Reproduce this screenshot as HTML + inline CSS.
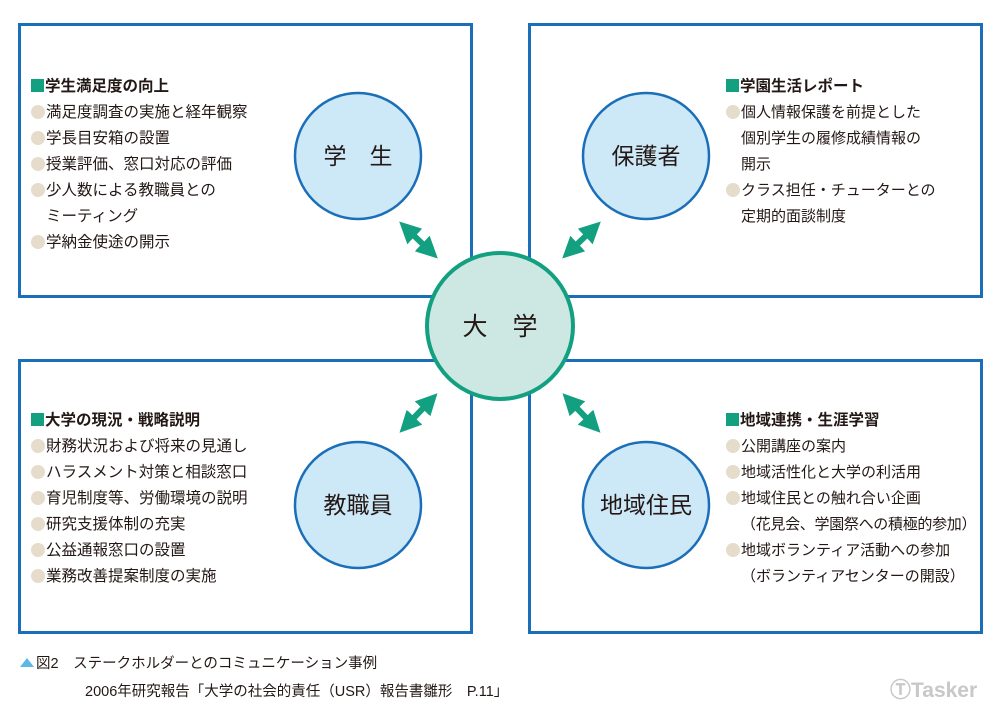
<!DOCTYPE html>
<html><head><meta charset="utf-8"><style>
html,body{margin:0;padding:0;background:#fff;}
body{width:1000px;height:711px;position:relative;overflow:hidden;font-family:"Liberation Sans","Noto Sans CJK JP",sans-serif;color:#231815;}
.t{position:absolute;font-size:15.5px;line-height:26px;white-space:nowrap;}
.h{font-weight:bold;font-size:15.5px;}
.b{display:inline-block;width:14px;height:14px;border-radius:50%;background:#e6dccb;vertical-align:-2px;margin-right:1px;}
.s{display:inline-block;width:13px;height:13px;background:#12a081;vertical-align:-1px;margin-right:1px;}
.ind{padding-left:15px;}
.cap{position:absolute;font-size:14.5px;white-space:nowrap;}
</style></head><body>
<svg width="1000" height="711" style="position:absolute;left:0;top:0">
<defs><marker id="a" viewBox="0 0 10 10" refX="5" refY="5" markerWidth="3.6" markerHeight="3.6" orient="auto-start-reverse"><path d="M0,0 L10,5 L0,10 z" fill="#12a081"/></marker></defs>
<g fill="none" stroke="#1a6fb8" stroke-width="3">
<rect x="19.5" y="24.5" width="452" height="272"/>
<rect x="529.5" y="24.5" width="452" height="272"/>
<rect x="19.5" y="360.5" width="452" height="272"/>
<rect x="529.5" y="360.5" width="452" height="272"/>
</g>
<g fill="#cde9f8" stroke="#1a6fb8" stroke-width="2.5">
<circle cx="358" cy="156" r="63"/><circle cx="646" cy="156" r="63"/>
<circle cx="358" cy="505" r="63"/><circle cx="646" cy="505" r="63"/>
</g>
<circle cx="500" cy="326" r="73" fill="#cde8e3" stroke="#12a081" stroke-width="4"/>
<g stroke="#12a081" stroke-width="6" marker-start="url(#a)" marker-end="url(#a)">
<line x1="407" y1="229" x2="430" y2="251"/>
<line x1="593" y1="229" x2="570" y2="251"/>
<line x1="430" y1="401" x2="407" y2="425"/>
<line x1="570" y1="401" x2="593" y2="425"/>
</g>
<path d="M20,667 L27,658 L34,667 z" fill="#5bb8e6"/>
<g font-family="Liberation Sans,Noto Sans CJK JP,sans-serif" fill="#231815" text-anchor="middle">
<text x="358" y="164" font-size="23">学　生</text>
<text x="646" y="164" font-size="23">保護者</text>
<text x="358" y="513" font-size="23">教職員</text>
<text x="646" y="513" font-size="23">地域住民</text>
<text x="500" y="335" font-size="25">大　学</text>
</g>
<text x="890" y="697" font-family="Liberation Sans,sans-serif" font-weight="bold" font-size="21" fill="#c8c8c8">ⓉTasker</text>
</svg>
<div class="t" style="left:31px;top:74px"><div class="h"><span class="s"></span>学生満足度の向上</div><div><span class="b"></span>満足度調査の実施と経年観察</div><div><span class="b"></span>学長目安箱の設置</div><div><span class="b"></span>授業評価、窓口対応の評価</div><div><span class="b"></span>少人数による教職員との</div><div class="ind">ミーティング</div><div><span class="b"></span>学納金使途の開示</div></div>
<div class="t" style="left:726px;top:74px;font-size:15px"><div class="h"><span class="s"></span>学園生活レポート</div><div><span class="b"></span>個人情報保護を前提とした</div><div class="ind">個別学生の履修成績情報の</div><div class="ind">開示</div><div><span class="b"></span>クラス担任・チューターとの</div><div class="ind">定期的面談制度</div></div>
<div class="t" style="left:31px;top:408px"><div class="h"><span class="s"></span>大学の現況・戦略説明</div><div><span class="b"></span>財務状況および将来の見通し</div><div><span class="b"></span>ハラスメント対策と相談窓口</div><div><span class="b"></span>育児制度等、労働環境の説明</div><div><span class="b"></span>研究支援体制の充実</div><div><span class="b"></span>公益通報窓口の設置</div><div><span class="b"></span>業務改善提案制度の実施</div></div>
<div class="t" style="left:726px;top:408px;font-size:15px"><div class="h"><span class="s"></span>地域連携・生涯学習</div><div><span class="b"></span>公開講座の案内</div><div><span class="b"></span>地域活性化と大学の利活用</div><div><span class="b"></span>地域住民との触れ合い企画</div><div class="ind" style="letter-spacing:-0.3px">（花見会、学園祭への積極的参加）</div><div><span class="b"></span>地域ボランティア活動への参加</div><div class="ind">（ボランティアセンターの開設）</div></div>
<div class="cap" style="left:36px;top:652px">図2　ステークホルダーとのコミュニケーション事例</div>
<div class="cap" style="left:85px;top:680px">2006年研究報告「大学の社会的責任（USR）報告書雛形　P.11」</div>
</body></html>
